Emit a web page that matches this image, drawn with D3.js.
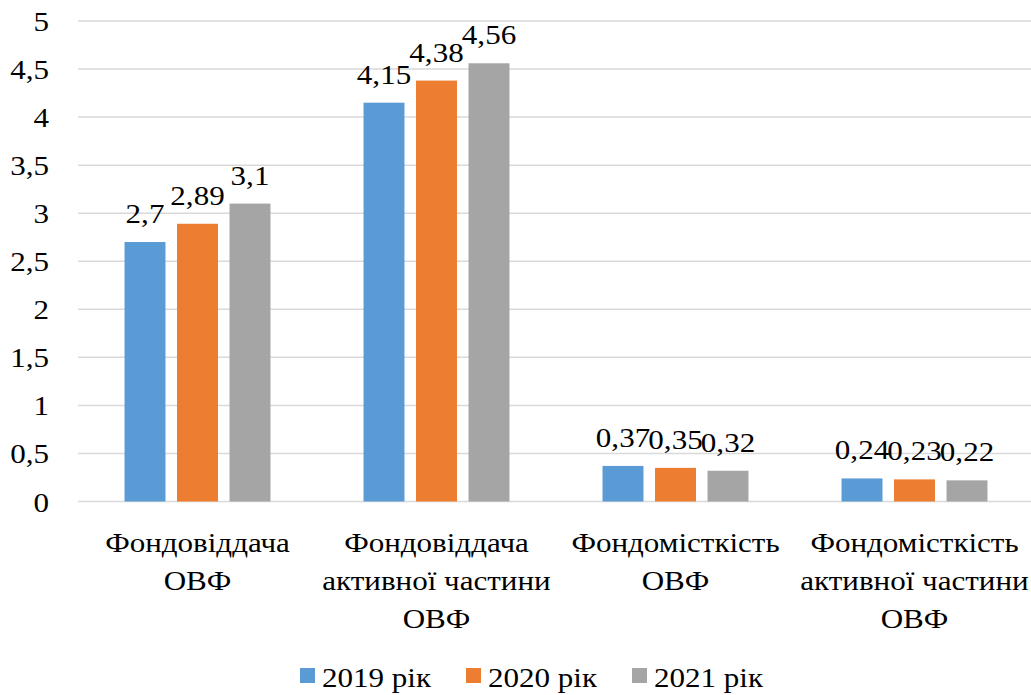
<!DOCTYPE html>
<html>
<head>
<meta charset="utf-8">
<script src="https://cdn.jsdelivr.net/npm/d3@7/dist/d3.min.js"></script>
<style>
  body { margin: 0; background: #fff; }
</style>
</head>
<body>
<div id="chart"></div>
<script>
// chart data
var categories = [
  ["Фондовіддача", "ОВФ"],
  ["Фондовіддача", "активної частини", "ОВФ"],
  ["Фондомісткість", "ОВФ"],
  ["Фондомісткість", "активної частини", "ОВФ"]
];
var seriesNames = ["2019 рік", "2020 рік", "2021 рік"];
var values2019 = [2.7, 4.15, 0.37, 0.24];
var values2020 = [2.89, 4.38, 0.35, 0.23];
var values2021 = [3.1, 4.56, 0.32, 0.22];
var yTicks = [0, 0.5, 1, 1.5, 2, 2.5, 3, 3.5, 4, 4.5, 5];
var colors = ["#5B9BD5", "#ED7D31", "#A5A5A5"];

var series = [values2019, values2020, values2021];
var W = 1031, H = 695;
var plotLeft = 78, plotRight = 1034, plotTop = 21, plotBottom = 501.5;
var STRETCH = 1.15; // reference text is a bit wider than it is tall

var svg = d3.select("#chart").append("svg")
  .attr("width", W).attr("height", H)
  .attr("font-family", "Liberation Serif");

// text placed by transform so it can be stretched sideways around its anchor
function place(sel, fx, fy) {
  sel.attr("font-family", "Liberation Serif")
    .style("font-family", "Liberation Serif")
    .style("font-size", "27px").attr("fill", "#000")
    .attr("transform", function (d, i) {
      return "translate(" + fx(d, i) + "," + fy(d, i) + ") scale(" + STRETCH + ",1)";
    });
}

var y = d3.scaleLinear().domain([0, 5]).range([plotBottom, plotTop]);
var x0 = d3.scaleBand().domain(d3.range(categories.length)).range([plotLeft, plotRight]);
var groupW = 157.5;
var x1 = d3.scaleBand().domain(d3.range(series.length))
  .range([(x0.bandwidth() - groupW) / 2, (x0.bandwidth() + groupW) / 2])
  .paddingInner(0.22).paddingOuter(0.11);

var fmt = function (v) { return String(v).replace(".", ","); };

// gridlines
svg.append("g").selectAll("line").data(yTicks).join("line")
  .attr("x1", plotLeft).attr("x2", plotRight)
  .attr("y1", d => y(d)).attr("y2", d => y(d))
  .attr("stroke", "#D9D9D9").attr("stroke-width", 1.5);

// y labels
svg.append("g").selectAll("text").data(yTicks).join("text")
  .attr("text-anchor", "end")
  .call(place, () => 49, d => y(d) + 10)
  .text(fmt);

// bars + value labels, one group per category
var groups = svg.append("g").selectAll("g").data(categories).join("g")
  .attr("transform", (d, i) => "translate(" + x0(i) + ",0)");

groups.each(function (c, ci) {
  var g = d3.select(this);
  series.forEach(function (vals, si) {
    g.append("rect")
      .attr("x", x1(si)).attr("width", x1.bandwidth())
      .attr("y", y(vals[ci])).attr("height", y(0) - y(vals[ci]))
      .attr("fill", colors[si]);
  });
  series.forEach(function (vals, si) {
    g.append("text")
      .attr("text-anchor", "middle")
      .call(place, () => x1(si) + x1.bandwidth() / 2, () => y(vals[ci]) - 19)
      .text(fmt(vals[ci]));
  });
  g.selectAll("text.cat").data(c).join("text")
    .attr("class", "cat")
    .attr("text-anchor", "middle")
    .call(place, () => x0.bandwidth() / 2, (d, li) => 552 + li * 38)
    .text(d => d);
});

// legend
var legendX = [300, 466, 632];
var legend = svg.append("g").selectAll("g").data(seriesNames).join("g")
  .attr("transform", (d, i) => "translate(" + legendX[i] + ",0)");
legend.append("rect").attr("x", 0).attr("y", 668).attr("width", 15).attr("height", 15)
  .attr("fill", (d, i) => colors[i]);
legend.append("text").call(place, () => 22, () => 687).text(d => d);
</script>
</body>
</html>
